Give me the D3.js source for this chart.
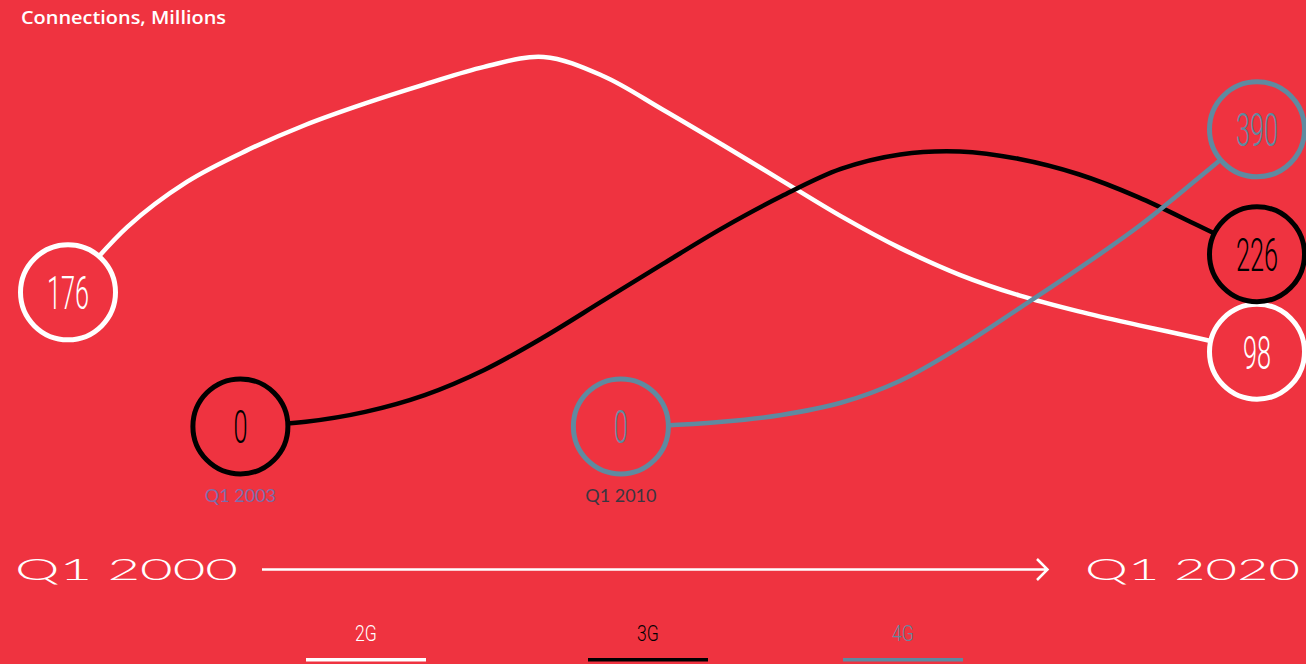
<!DOCTYPE html>
<html>
<head>
<meta charset="utf-8">
<script src="https://cdn.jsdelivr.net/npm/d3@7"></script>
<style>
    html, body { margin: 0; padding: 0; background: #ef3340; }
    svg { display: block; }
</style>
</head>
<body>
<div id="chart"></div>
<script>

// data (years, millions of connections)
const seriesNames = ["2G", "3G", "4G"];

const years2G = [2000, 2001, 2002, 2003, 2004, 2005, 2006, 2007, 2008, 2009, 2010, 2011, 2012, 2013, 2014, 2015, 2016, 2017, 2018, 2019, 2020];
const values2G = [176, 262, 321, 362, 396, 424, 449, 472, 485, 460, 416, 370, 323, 276, 234, 199, 172, 151, 133, 116, 98];

const years3G = [2002.9, 2004, 2005, 2006, 2007, 2008, 2009, 2010, 2011, 2012, 2013, 2014, 2015, 2016, 2017, 2018, 2019, 2020];
const values3G = [0, 6, 19, 41, 74, 117, 165, 213, 260, 302, 338, 357, 361, 351, 331, 301, 264, 226];

const years4G = [2009.3, 2010, 2011, 2012, 2013, 2014, 2015, 2016, 2017, 2018, 2019, 2020];
const values4G = [0, 1, 6, 15, 31, 60, 104, 155, 207, 262, 325, 390];

const startLabels = ["", "Q1 2003", "Q1 2010"];
const axisLabels = ["Q1 2000", "Q1 2020"];
const title = "Connections, Millions";

var width = 1306, height = 664;
var bg = "#ef3340";
var colors = { "2G": "#ffffff", "3G": "#000000", "4G": "#5f8aa0" };
var startLabelColors = ["#ffffff", "#7d6eab", "#3b3640"];

function init() {

    var series = [
        { name: "2G", years: years2G, values: values2G },
        { name: "3G", years: years3G, values: values3G },
        { name: "4G", years: years4G, values: values4G }
    ].map(function (s, i) {
        s.points = s.years.map((yr, j) => ({ year: yr, value: s.values[j] }));
        s.label = startLabels[i];
        s.labelColor = startLabelColors[i];
        return s;
    });

    var x = d3.scaleLinear().domain([2000, 2020]).range([68, 1257]);
    var y = d3.scaleLinear().domain([0, 390]).range([426.4, 129.3]);

    var svg = d3.select("#chart").append("svg")
        .attr("width", width)
        .attr("height", height);

    svg.append("rect")
        .attr("width", width).attr("height", height)
        .attr("fill", bg);

    // title
    svg.append("text")
        .attr("x", 21).attr("y", 24)
        .attr("textLength", 205)
        .attr("lengthAdjust", "spacingAndGlyphs")
        .style("font-family", "'Open Sans', sans-serif")
        .style("font-weight", 600)
        .style("font-size", "18px")
        .attr("fill", "#fff")
        .text(title);

    var line = d3.line()
        .x(d => x(d.year))
        .y(d => y(d.value))
        .curve(d3.curveCatmullRom.alpha(0.5));

    // lines
    svg.selectAll(".series")
        .data(series)
        .join("path")
        .attr("class", "series")
        .attr("d", d => line(d.points))
        .attr("fill", "none")
        .attr("stroke", d => colors[d.name])
        .attr("stroke-width", 4.5);

    // circles at start and end of each series
    var ends = [];
    series.forEach(function (s) {
        ends.push({ s: s, p: s.points[0], start: true });
        ends.push({ s: s, p: s.points[s.points.length - 1], start: false });
    });

    var g = svg.selectAll(".node")
        .data(ends)
        .join("g")
        .attr("class", "node")
        .attr("transform", d => "translate(" + x(d.p.year) + "," + y(d.p.value) + ")");

    g.append("circle")
        .attr("r", 47.5)
        .attr("fill", bg)
        .attr("stroke", d => colors[d.s.name])
        .attr("stroke-width", 5);

    g.append("text")
        .attr("transform", "translate(0,17) scale(0.55,1)")
        .attr("text-anchor", "middle")
        .style("font-family", "Roboto, sans-serif")
        .style("font-weight", 300)
        .style("font-size", "46px")
        .attr("fill", d => colors[d.s.name])
        .text(d => d.p.value);

    // date labels under start circles
    g.filter(d => d.start && d.s.label)
        .append("text")
        .attr("y", 76)
        .attr("text-anchor", "middle")
        .style("font-family", "Lato, sans-serif")
        .style("font-size", "18px")
        .attr("fill", d => d.s.labelColor)
        .text(d => d.s.label);

    // time arrow
    svg.append("text")
        .attr("x", 15).attr("y", 580)
        .attr("textLength", 223)
        .attr("lengthAdjust", "spacingAndGlyphs")
        .style("font-family", "Lato, sans-serif")
        .style("font-weight", 300)
        .style("font-size", "30px")
        .attr("fill", "#fff")
        .text(axisLabels[0]);

    svg.append("text")
        .attr("x", 1085).attr("y", 580)
        .attr("textLength", 215)
        .attr("lengthAdjust", "spacingAndGlyphs")
        .style("font-family", "Lato, sans-serif")
        .style("font-weight", 300)
        .style("font-size", "30px")
        .attr("fill", "#fff")
        .text(axisLabels[1]);

    svg.append("path")
        .attr("d", "M262,569.5H1047M1037,559L1047.5,569.5L1037,580")
        .attr("fill", "none")
        .attr("stroke", "#fff")
        .attr("stroke-width", 2.5);

    // legend
    var legendX = d3.scaleOrdinal().domain(seriesNames).range([366, 648, 903]);

    var legend = svg.selectAll(".legendEntry")
        .data(seriesNames)
        .join("g")
        .attr("class", "legendEntry")
        .attr("transform", d => "translate(" + legendX(d) + ",0)");

    legend.append("text")
        .attr("transform", "translate(0,641) scale(0.8,1)")
        .attr("text-anchor", "middle")
        .style("font-family", "Roboto, sans-serif")
        .style("font-weight", 300)
        .style("font-size", "22px")
        .attr("fill", d => colors[d])
        .text(d => d);

    legend.append("rect")
        .attr("x", -60).attr("y", 658)
        .attr("width", 120).attr("height", 3.5)
        .attr("fill", d => colors[d]);
}

window.onload = init;
</script>
</body>
</html>
